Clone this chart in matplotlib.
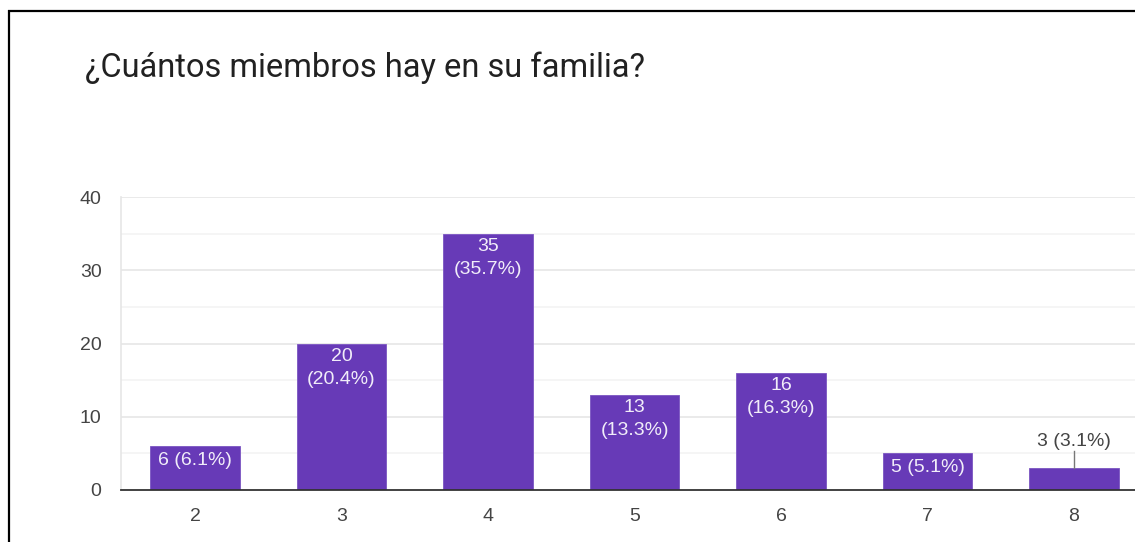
import matplotlib
matplotlib.use("Agg")
import matplotlib.pyplot as plt
from matplotlib.lines import Line2D

# Survey answers: number of family members
categories = ["2", "3", "4", "5", "6", "7", "8"]
counts = [6, 20, 35, 13, 16, 5, 3]
y_ticks = [0, 10, 20, 30, 40]
title = "¿Cuántos miembros hay en su familia?"

W, H = 1135, 542
DPI = 100
fig = plt.figure(figsize=(W / DPI, H / DPI), dpi=DPI)
fig.patch.set_facecolor("white")

# frame lines on the left and top edges
fig.add_artist(Line2D([9 / W, 9 / W], [0, 1 - 10 / H], transform=fig.transFigure,
                      color="black", lw=1.6, solid_capstyle="butt"))
fig.add_artist(Line2D([8 / W, 1], [1 - 11 / H, 1 - 11 / H], transform=fig.transFigure,
                      color="black", lw=1.6, solid_capstyle="butt"))

fig.text(85 / W, 1 - 68 / H, title, fontsize=23.5, family="Roboto",
         color="#212121", va="center", ha="left")

left_px, right_px = 121, 1135
bottom_px, top_px = 490, 197
ax = fig.add_axes([left_px / W, 1 - bottom_px / H,
                   (right_px - left_px) / W, (bottom_px - top_px) / H])

x = list(range(len(categories)))
purple = "#673AB7"
ax.bar(x, counts, width=0.61, color=purple, edgecolor="#7b55c2", linewidth=0.6, zorder=3)

ax.set_xlim(-0.505, len(categories) - 1 + 0.416)
ax.set_ylim(0, 40)

# gridlines: major every 10, lighter minor every 5
for v in range(0, 41, 5):
    if v == 0:
        continue
    c = "#e6e6e6" if v % 10 == 0 else "#f3f3f3"
    ax.axhline(v, color=c, lw=1.2, zorder=1)

for s in ["top", "right"]:
    ax.spines[s].set_visible(False)
ax.spines["left"].set_color("#e6e6e6")
ax.spines["left"].set_linewidth(1.2)
ax.spines["bottom"].set_color("#333333")
ax.spines["bottom"].set_linewidth(1.3)
ax.spines["bottom"].set_zorder(4)

ax.set_yticks(y_ticks)
ax.set_yticklabels([str(t) for t in y_ticks])
ax.set_xticks(x)
ax.set_xticklabels(categories)
ax.tick_params(axis="both", length=0, labelsize=14, labelcolor="#444444")
ax.tick_params(axis="y", pad=14)
ax.tick_params(axis="x", pad=13)
for lbl in ax.get_xticklabels() + ax.get_yticklabels():
    lbl.set_family("Liberation Sans")

total = sum(counts)
px_per_unit = (bottom_px - top_px) / 40.0
for xi, c in zip(x, counts):
    pct = f"({100 * c / total:.1f}%)"
    h_px = c * px_per_unit
    kw = dict(ha="center", va="center", fontsize=14, family="Liberation Sans",
              textcoords="offset pixels", zorder=5)
    inside = "#f1edf9"
    if h_px > 60:
        ax.annotate(str(c), (xi, c), xytext=(0, -13), color=inside, **kw)
        ax.annotate(pct, (xi, c), xytext=(0, -36), color=inside, **kw)
    elif h_px > 30:
        ax.annotate(f"{c} {pct}", (xi, c), xytext=(0, -14), color=inside, **kw)
    else:
        ax.plot([xi, xi], [c, c + 17 / px_per_unit], color="#777777", lw=1, zorder=4)
        ax.annotate(f"{c} {pct}", (xi, c), xytext=(0, 27), color="#444444", **kw)

fig.savefig("out.png", dpi=DPI, facecolor="white")
